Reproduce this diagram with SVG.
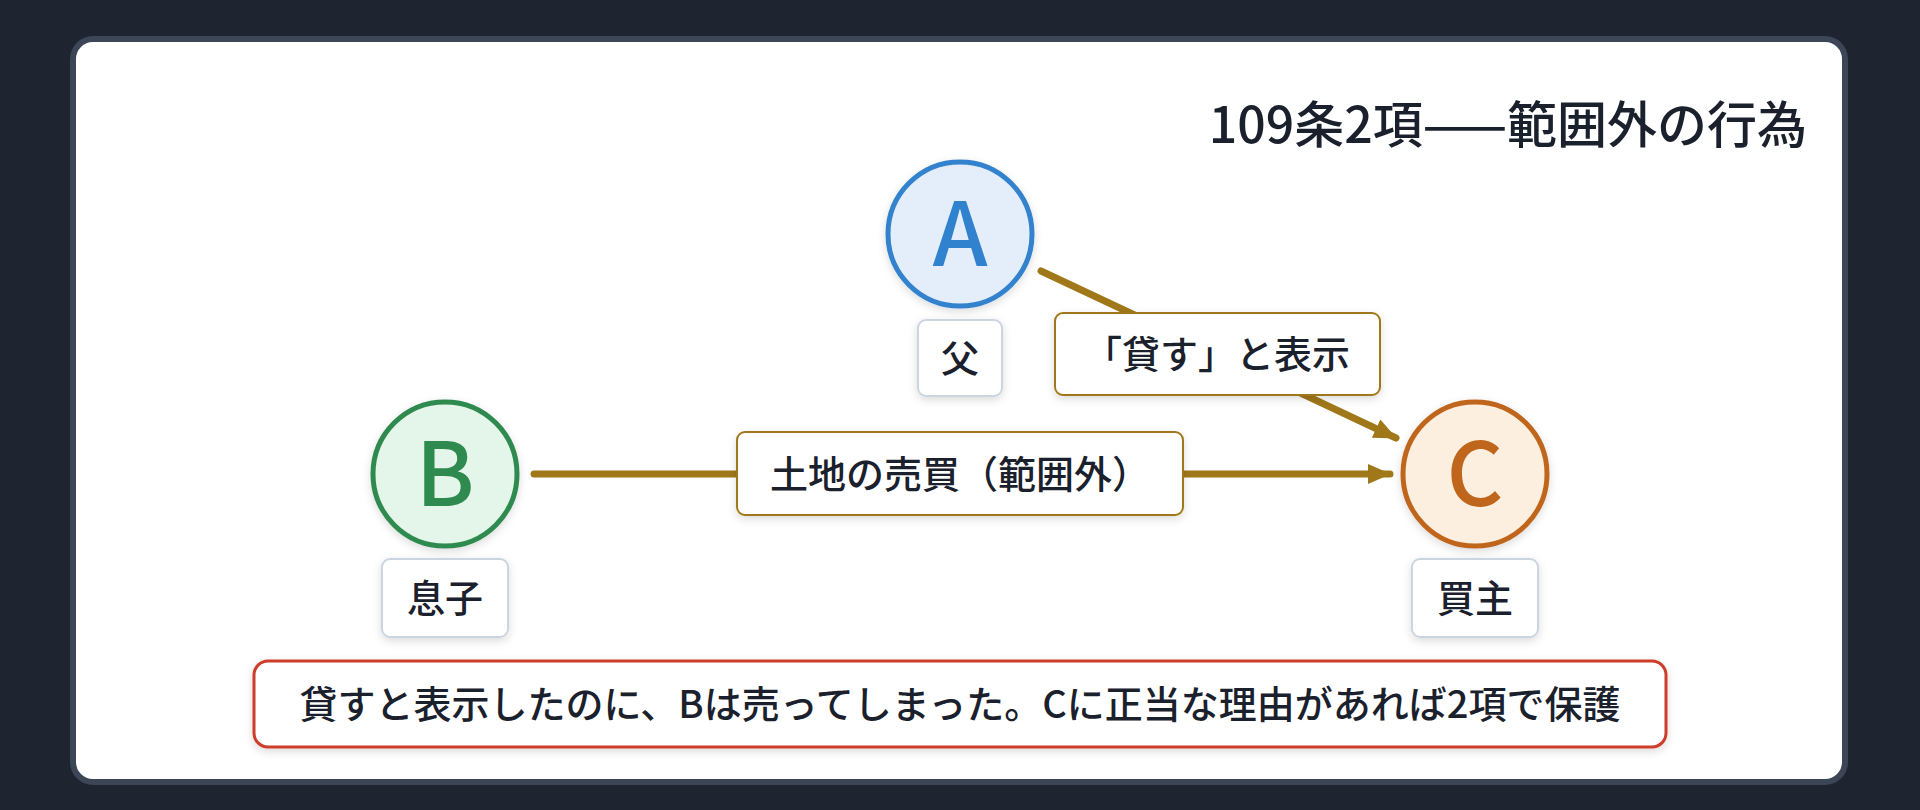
<svg xmlns="http://www.w3.org/2000/svg" width="1920" height="810" viewBox="0 0 1920 810">
  <defs>
    <filter id="sh" x="-20%" y="-20%" width="140%" height="150%">
      <feDropShadow dx="0" dy="3" stdDeviation="4" flood-color="#000" flood-opacity="0.14"/>
    </filter>
    <marker id="arr" markerUnits="userSpaceOnUse" markerWidth="24" markerHeight="22" viewBox="0 0 24 22" refX="22" refY="11" orient="auto">
      <path d="M0,1 L23,11 L0,21 Z" fill="#a0781a"/>
    </marker>
    <style>
      .t { font-family: "Noto Sans CJK JP", "Noto Sans", sans-serif; fill: #1a202c; }
      .lbl { font-size: 38px; font-weight: 500; text-anchor: middle; }
      .big { font-size: 88px; font-weight: 500; text-anchor: middle; }
      .tag { fill: #ffffff; stroke: #cbd5e1; stroke-width: 2; }
      .elab { fill: #ffffff; stroke: #a0781a; stroke-width: 2; }
      .edge { stroke: #a0781a; stroke-width: 7; fill: none; stroke-linecap: round; }
    </style>
  </defs>
  <rect x="0" y="0" width="1920" height="810" fill="#1e2530"/>
  <rect x="73" y="39" width="1772" height="743" rx="20" fill="#ffffff" stroke="#3c4657" stroke-width="6"/>

  <g id="title">
    <text class="t" x="1807" y="143" font-size="50" font-weight="500" text-anchor="end">109条2項——範囲外の行為</text>
  </g>

  <g id="connectors">
    <line class="edge" x1="1041" y1="271" x2="1396" y2="438" marker-end="url(#arr)"/>
    <line class="edge" x1="534" y1="474" x2="1390" y2="474" marker-end="url(#arr)"/>
    <g id="label-lend">
      <rect class="elab" x="1055" y="313" width="325" height="82" rx="8" filter="url(#sh)"/>
      <text class="t lbl" x="1217" y="368">「貸す」と表示</text>
    </g>
    <g id="label-sale">
      <rect class="elab" x="737" y="432" width="446" height="83" rx="8" filter="url(#sh)"/>
      <text class="t lbl" x="960" y="488">土地の売買（範囲外）</text>
    </g>
  </g>

  <g id="node-A">
    <circle cx="960" cy="234" r="72" fill="#e4eefa" stroke="#3182ce" stroke-width="5" filter="url(#sh)"/>
    <text class="t big" x="960" y="266" style="fill:#3182ce">A</text>
    <rect class="tag" x="918" y="320" width="84" height="76" rx="8" filter="url(#sh)"/>
    <text class="t lbl" x="960" y="372">父</text>
  </g>

  <g id="node-B">
    <circle cx="445" cy="474" r="72" fill="#e4f5e9" stroke="#2f8a4f" stroke-width="5" filter="url(#sh)"/>
    <text class="t big" x="445" y="506" style="fill:#2f8a4f">B</text>
    <rect class="tag" x="382" y="559" width="126" height="78" rx="8" filter="url(#sh)"/>
    <text class="t lbl" x="445" y="612">息子</text>
  </g>

  <g id="node-C">
    <circle cx="1475" cy="474" r="72" fill="#fdefdf" stroke="#c0661c" stroke-width="5" filter="url(#sh)"/>
    <text class="t big" x="1475" y="506" style="fill:#c0661c">C</text>
    <rect class="tag" x="1412" y="559" width="126" height="78" rx="8" filter="url(#sh)"/>
    <text class="t lbl" x="1475" y="612">買主</text>
  </g>

  <g id="note">
    <rect x="254" y="661" width="1412" height="86" rx="14" fill="#ffffff" stroke="#cc3d2a" stroke-width="3" filter="url(#sh)"/>
    <text class="t lbl" x="960" y="718">貸すと表示したのに、Bは売ってしまった。Cに正当な理由があれば2項で保護</text>
  </g>
</svg>
